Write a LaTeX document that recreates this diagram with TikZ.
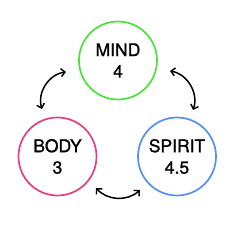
\documentclass[tikz,border=0pt]{standalone}
\usepackage{fontspec}
\setmainfont{TeX Gyre Heros}
\newfontfamily\partfont[FakeBold=1.2]{TeX Gyre Heros}
\usetikzlibrary{arrows.meta}
\definecolor{mindc}{RGB}{76,224,58}
\definecolor{bodyc}{RGB}{232,64,127}
\definecolor{spiritc}{RGB}{85,144,240}

\begin{document}
\begin{tikzpicture}[
  x=1pt,y=1pt,
  >={Straight Barb[length=4pt,width=8pt,line width=1.4pt]},
  part/.style={circle,minimum size=78pt,inner sep=0pt,line width=1.7pt,
               align=center,font=\partfont\fontsize{17.5}{21.5}\selectfont},
  link/.style={black,line width=1.5pt,<->}
]
\useasboundingbox (0,0) rectangle (239,-233);
% the three parts
\node[part,draw=mindc]   (mind)   at (118,-60.5)  {MIND\\4};
\node[part,draw=bodyc]   (body)   at (57.5,-156.5) {BODY\\3};
\node[part,draw=spiritc] (spirit) at (177,-156.5)  {SPIRIT\\4.5};

% free ends of the links
\coordinate (mb1) at (66,-72);
\coordinate (mb2) at (42,-109);
\coordinate (ms1) at (170,-71);
\coordinate (ms2) at (193,-110);
\coordinate (bs1) at (96,-188);
\coordinate (bs2) at (140,-190);

% links
\draw[link] (mb1) to[bend right=50] (mb2);
\draw[link] (ms1) to[bend left=50] (ms2);
\draw[link] (bs1) to[bend right=45] (bs2);
\end{tikzpicture}
\end{document}
